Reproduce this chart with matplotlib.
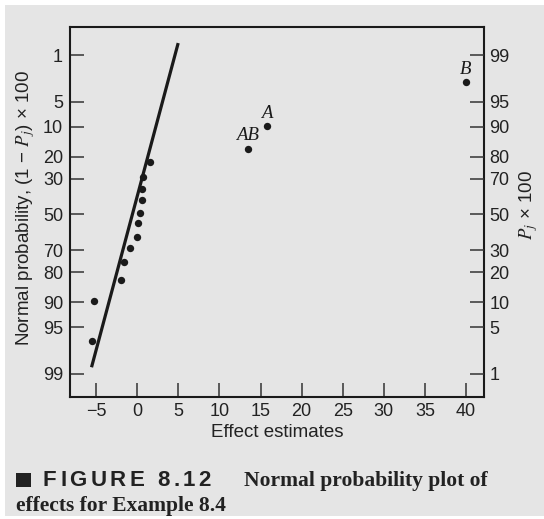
import numpy as np
import matplotlib.pyplot as plt
from matplotlib.patches import Rectangle
from statistics import NormalDist

# effect estimates (sorted) and plotting positions P_j x 100
effects = [-5.54, -5.30, -1.97, -1.68, -0.88, -0.02, 0.06, 0.27, 0.55, 0.58, 0.71, 1.56, 13.43, 15.74, 39.99]
prob = [3.2, 10.4, 16.9, 24.4, 31.3, 37.2, 45.2, 51.0, 58.3, 64.4, 70.8, 77.7, 83.2, 90.1, 97.3]
point_labels = ['', '', '', '', '', '', '', '', '', '', '', '', 'AB', 'A', 'B']

# straight line drawn through the small effects
line_x = [-5.58, 4.97]
line_p = [1.29, 99.38]

x_ticks = [-5, 0, 5, 10, 15, 20, 25, 30, 35, 40]
left_labels = [1, 5, 10, 20, 30, 50, 70, 80, 90, 95, 99]    # (1 - P_j) x 100
right_labels = [99, 95, 90, 80, 70, 50, 30, 20, 10, 5, 1]   # P_j x 100

plt.rcParams['font.family'] = ['Liberation Sans', 'DejaVu Sans']
plt.rcParams['mathtext.fontset'] = 'stix'

BG = '#e5e5e5'
INK = '#1a1a1a'
TXT = '#222222'
W, H = 544, 519

nd = NormalDist()
_ppf = np.vectorize(lambda v: nd.inv_cdf(min(max(v / 100.0, 1e-9), 1 - 1e-9)), otypes=[float])
_cdf = np.vectorize(lambda v: nd.cdf(v) * 100.0, otypes=[float])


def fwd(p):
    return _ppf(np.asarray(p, dtype=float))


def inv(z):
    return _cdf(np.asarray(z, dtype=float))


def spaced_text(fig, x, y, s, gap, word_gap, **kw):
    """Draw s letter by letter (x, y in pixels) with extra tracking."""
    r = fig.canvas.get_renderer()
    for ch in s:
        if ch == ' ':
            x += word_gap
            continue
        t = fig.text(x / W, y / H, ch, **kw)
        bb = t.get_window_extent(renderer=r)
        x += bb.width + gap
    return x


fig = plt.figure(figsize=(W / 100, H / 100), dpi=100, facecolor='white')
fig.patches.append(Rectangle((5 / W, 3 / H), 1, 1 - 8 / H, transform=fig.transFigure,
                             facecolor=BG, edgecolor='none', zorder=-10))

ax = fig.add_axes([70 / W, 1 - 397 / H, 414 / W, 370 / H])
ax.set_facecolor('none')
ax.set_yscale('function', functions=(fwd, inv))
ylim = (0.387, 99.688)
ax.set_ylim(*ylim)
ax.set_xlim(-8.2, 42.2)

ax.plot(line_x, line_p, color=INK, lw=2.3, solid_capstyle='butt')
ax.plot(effects, prob, 'o', color=INK, ms=5.3, mec='none')
for x, p, lab in zip(effects, prob, point_labels):
    if lab:
        ax.annotate(lab, (x, p), xytext=(0, 6), textcoords='offset points',
                    ha='center', va='baseline', fontsize=13.5,
                    fontfamily='Liberation Serif', fontstyle='italic', color=INK)

ax.set_xticks(x_ticks)
ax.set_yticks([100 - v for v in left_labels], labels=[str(v) for v in left_labels])
ax.minorticks_off()
ax.tick_params(axis='both', direction='in', length=10, width=1.1, color='#333333',
               labelsize=13, labelcolor=TXT)
ax.tick_params(axis='y', pad=5)
ax.tick_params(axis='x', pad=4)
for sp in ax.spines.values():
    sp.set_color(INK)
    sp.set_linewidth(1.5)

ax.set_xlabel('Effect estimates', fontsize=13.5, color=TXT, labelpad=3)
ax.set_ylabel(r'Normal probability, (1 − $P_j$) × 100', fontsize=13.5, color=TXT)
ax.yaxis.set_label_coords(-0.08, 0.51)

ax2 = ax.twinx()
ax2.set_yscale('function', functions=(fwd, inv))
ax2.set_ylim(*ylim)
ax2.set_yticks(right_labels, labels=[str(v) for v in right_labels])
ax2.minorticks_off()
ax2.tick_params(axis='y', direction='in', length=10, width=1.1, color='#333333',
                labelsize=13, labelcolor=TXT, pad=4)
for sp in ax2.spines.values():
    sp.set_visible(False)
ax2.set_ylabel(r'$P_j$ × 100', fontsize=13.5, color=TXT)
ax2.yaxis.set_label_coords(1.08, 0.52)

# caption
fig.patches.append(Rectangle((16 / W, 1 - 487 / H), 15 / W, 14 / H, transform=fig.transFigure,
                             facecolor=TXT, edgecolor='none'))
spaced_text(fig, 43, H - 486, 'FIGURE 8.12', gap=3.4, word_gap=10,
            fontsize=16, fontweight='bold', color=TXT)
fig.text(244 / W, 1 - 486 / H, 'Normal probability plot of', fontsize=15.5,
         fontweight='bold', fontfamily='Liberation Serif', color=TXT)
fig.text(16 / W, 1 - 511 / H, 'effects for Example 8.4', fontsize=15.5,
         fontweight='bold', fontfamily='Liberation Serif', color=TXT)

fig.savefig('out.png', dpi=100, facecolor='white')
